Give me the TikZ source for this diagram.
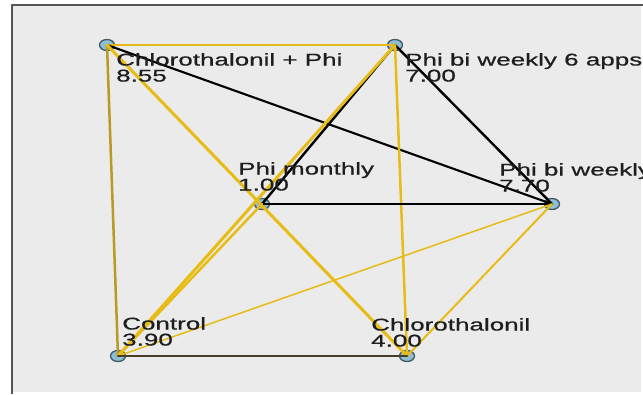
\documentclass[tikz,border=0pt]{standalone}
\usepackage{fontspec}
\setmainfont{Liberation Sans}[FakeStretch=1.53,FakeBold=0.6]
\usetikzlibrary{shapes.geometric}
\definecolor{ink}{RGB}{30,30,30}
\definecolor{panelgrey}{RGB}{235,235,235}
\definecolor{framegrey}{RGB}{85,85,85}
\definecolor{nodeblue}{RGB}{140,190,214}
\definecolor{nodeedge}{RGB}{70,90,100}
\definecolor{gold}{RGB}{232,188,22}
\definecolor{olive}{RGB}{185,155,35}
\definecolor{darkolive}{RGB}{70,62,40}

\begin{document}
\begin{tikzpicture}[
    x=1pt,
    y=-1pt,
    line cap=round,
    line join=round,
    trt/.style={
      ellipse,
      draw=nodeedge,
      fill=nodeblue,
      line width=1.3pt,
      minimum width=15pt,
      minimum height=11pt,
      inner sep=0pt
    },
    trtlabel/.style={
      anchor=north west,
      align=left,
      inner sep=0pt,
      text=ink,
      font=\fontsize{17}{16}\selectfont
    },
    direct/.style={
      draw=gold,
      line width=3pt
    },
    thindirect/.style={
      draw=gold,
      line width=1.5pt
    },
    strong/.style={
      draw=black,
      line width=2.4pt
    }
]
\useasboundingbox (0,0) rectangle (643,394);

% Plot area with its frame (only left and top edges show).
\fill[panelgrey] (12,5) rectangle (641,392);
\draw[framegrey,line width=2.2pt,line cap=butt] (12,394) -- (12,5) -- (643,5);

% Treatments.
\node[trt] (cp)   at (107,45)  {};
\node[trt] (b6)   at (395,45)  {};
\node[trt] (pm)   at (262,204) {};
\node[trt] (bw)   at (552,204) {};
\node[trt] (ctrl) at (118,356) {};
\node[trt] (chl)  at (407,356) {};

% Comparisons.
\draw[direct,line width=2.5pt] (cp.center) -- (b6.center);
\draw[strong,line width=2.1pt] (cp.center) -- (bw.center);
\draw[draw=olive,line width=2.5pt] (cp.center) -- (ctrl.center);
\draw[direct] (cp.center) -- (chl.center);
\draw[strong] (b6.center) -- (pm.center);
\draw[direct] (b6.center) -- (ctrl.center);
\draw[strong] (b6.center) -- (bw.center);
\draw[direct,line width=2.5pt] (b6.center) -- (chl.center);
\draw[strong] (pm.center) -- (bw.center);
\draw[direct,line width=2.5pt] (pm.center) -- (ctrl.center);
\draw[thindirect] (bw.center) -- (ctrl.center);
\draw[thindirect,line width=2pt] (bw.center) -- (chl.center);
\draw[draw=darkolive,line width=2.8pt] (ctrl.center) -- (chl.center);

% Names and scores.
\node[trtlabel] (cp-lab)   at (116,53)  {Chlorothalonil + Phi\\8.55};
\node[trtlabel] (b6-lab)   at (405,53)  {Phi bi weekly 6 apps\\7.00};
\node[trtlabel] (pm-lab)   at (238,162) {Phi monthly\\1.00};
\node[trtlabel] (bw-lab)   at (499,163) {Phi bi weekly\\7.70};
\node[trtlabel] (ctrl-lab) at (122,317) {Control\\3.90};
\node[trtlabel] (chl-lab)  at (371,318) {Chlorothalonil\\4.00};

\end{tikzpicture}
\end{document}
